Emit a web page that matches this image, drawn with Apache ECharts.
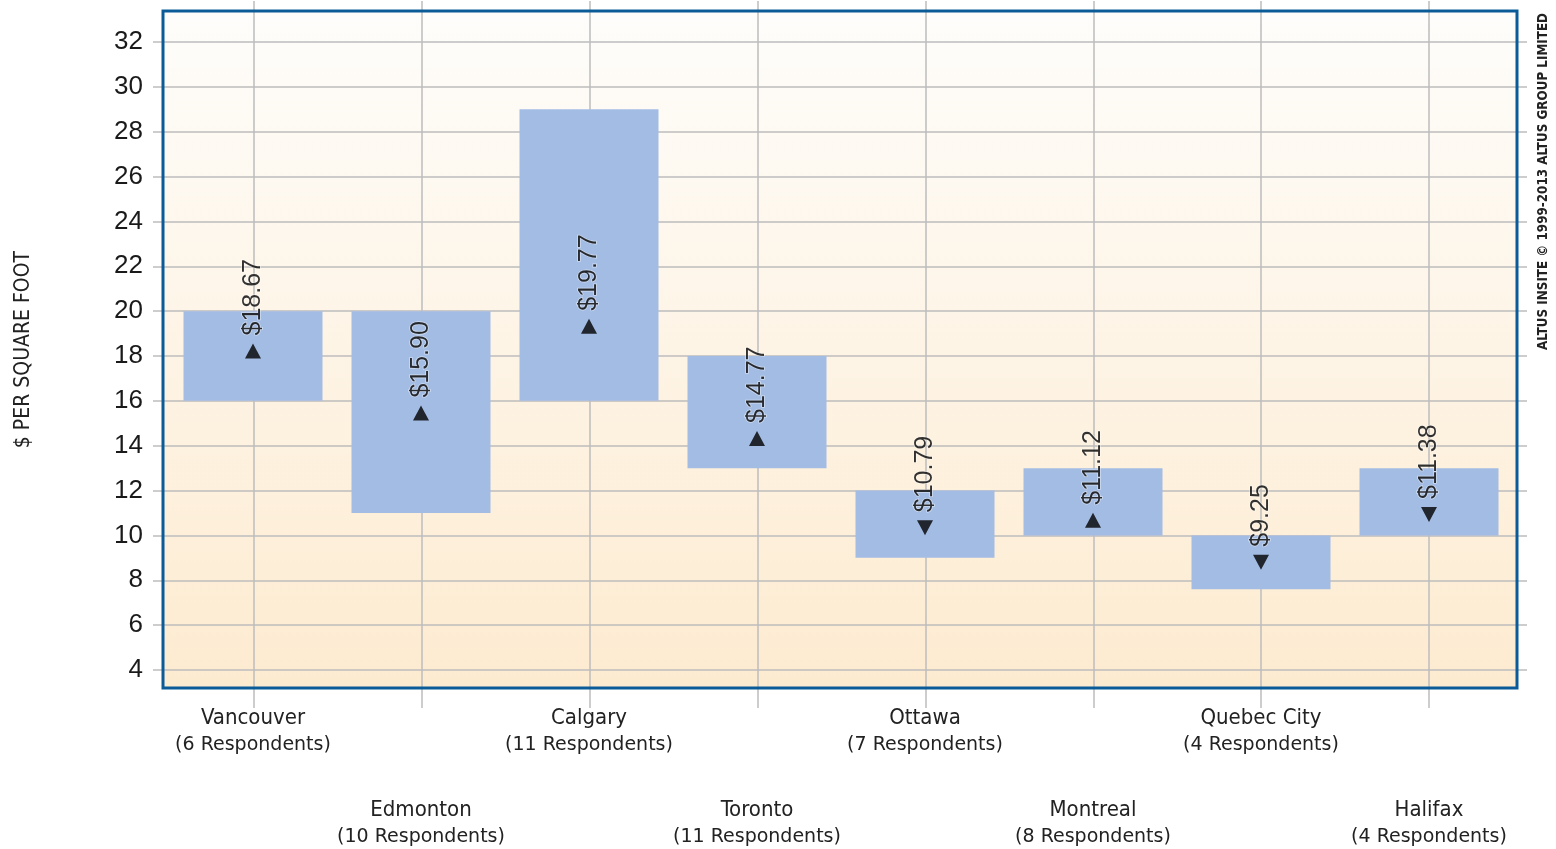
<!DOCTYPE html>
<html>
<head>
<meta charset="utf-8">
<script src="https://cdn.jsdelivr.net/npm/echarts@6/dist/echarts.min.js"></script>
<style>
  html, body { margin: 0; padding: 0; background: #ffffff; }
  #chart { width: 1556px; height: 849px; }
</style>
</head>
<body>
<div id="chart"></div>
<script>
// ---- data ----
const cities = ['Vancouver', 'Edmonton', 'Calgary', 'Toronto', 'Ottawa', 'Montreal', 'Quebec City', 'Halifax'];
const respondents = [6, 10, 11, 11, 7, 8, 4, 4];
const lowValues = [16, 11, 16, 13, 9, 10, 7.6, 10];
const highValues = [20, 20, 29, 18, 12, 13, 10, 13];
const averages = [18.67, 15.90, 19.77, 14.77, 10.79, 11.12, 9.25, 11.38];
const trends = ['up', 'up', 'up', 'up', 'down', 'up', 'down', 'down'];
const yMin = 4, yMax = 32, yStep = 2;
const yTitle = '$ PER SQUARE FOOT';
const copyright = 'ALTUS INSITE \u00A9 1999-2013 ALTUS GROUP LIMITED';

const narrow = "'Liberation Sans Narrow', 'DejaVu Sans Condensed', sans-serif";
const gridLineColor = '#bcbcbc';

const chart = echarts.init(document.getElementById('chart'), null, { renderer: 'canvas' });

const labelRich = {
  n: { fontFamily: narrow, fontSize: 22, lineHeight: 28, color: '#222', align: 'center' },
  r: { fontFamily: "'DejaVu Sans', sans-serif", fontSize: 19, lineHeight: 26, color: '#222', align: 'center' }
};
function catFormatter(v, i) {
  return '{n|' + v + '}\n{r|(' + respondents[i] + ' Respondents)}';
}

const option = {
  animation: false,
  backgroundColor: '#ffffff',
  grid: [
    // 0: frame background
    { show: true, z: -1, left: 163, right: 39, top: 11, bottom: 161, borderWidth: 0,
      backgroundColor: { type: 'linear', x: 0, y: 0, x2: 0, y2: 1,
        colorStops: [{ offset: 0, color: '#fefdfb' }, { offset: 1, color: '#fdebd0' }] } },
    // 1: vertical grid lines (category centres)
    { left: 254, right: 127, top: 1, bottom: 141 },
    // 2: horizontal grid lines + y labels
    { left: 153, right: 29, top: 42, bottom: 179 },
    // 3: main plot
    { left: 169, right: 43, top: 42, bottom: 179 },
    // 4: frame border
    { show: true, z: 5, left: 163, right: 39, top: 11, bottom: 161, backgroundColor: 'transparent',
      borderColor: '#0b5b98', borderWidth: 3 }
  ],
  xAxis: [
    { gridIndex: 1, type: 'value', min: 0, max: cities.length - 1, interval: 1,
      axisLine: { show: false }, axisTick: { show: false }, axisLabel: { show: false },
      splitLine: { show: true, lineStyle: { color: gridLineColor, width: 1.5 } } },
    { gridIndex: 2, type: 'value', min: 0, max: 1,
      axisLine: { show: false }, axisTick: { show: false }, axisLabel: { show: false }, splitLine: { show: false } },
    { gridIndex: 3, type: 'category', data: cities, position: 'bottom',
      axisLine: { show: false }, axisTick: { show: false }, splitLine: { show: false },
      axisLabel: { interval: function (i) { return i % 2 === 0; }, margin: 34, formatter: catFormatter, rich: labelRich } },
    { gridIndex: 3, type: 'category', data: cities, position: 'bottom',
      axisLine: { show: false }, axisTick: { show: false }, splitLine: { show: false },
      axisLabel: { interval: function (i) { return i % 2 === 1; }, margin: 126, formatter: catFormatter, rich: labelRich } }
  ],
  yAxis: [
    { gridIndex: 1, type: 'value', min: 0, max: 1,
      axisLine: { show: false }, axisTick: { show: false }, axisLabel: { show: false }, splitLine: { show: false } },
    { gridIndex: 2, type: 'value', min: yMin, max: yMax, interval: yStep,
      axisLine: { show: false }, axisTick: { show: false },
      axisLabel: { margin: 10, fontSize: 26, color: '#1a1a1a', fontFamily: "'Liberation Sans', Arial, sans-serif" },
      splitLine: { show: true, lineStyle: { color: gridLineColor, width: 1.5 } },
      name: yTitle, nameLocation: 'middle', nameRotate: 90, nameGap: 119,
      nameTextStyle: { fontFamily: narrow, fontSize: 21, color: '#222', padding: [0, 0, 0, 13] } },
    { gridIndex: 3, type: 'value', min: yMin, max: yMax,
      axisLine: { show: false }, axisTick: { show: false }, axisLabel: { show: false }, splitLine: { show: false } }
  ],
  series: [
    { type: 'bar', name: 'base', xAxisIndex: 2, yAxisIndex: 2, stack: 'range', barWidth: 139,
      itemStyle: { color: 'transparent' }, silent: true, data: lowValues },
    { type: 'bar', name: 'range', xAxisIndex: 2, yAxisIndex: 2, stack: 'range', barWidth: 139,
      itemStyle: { color: '#a3bce4' },
      data: highValues.map(function (h, i) { return h - lowValues[i]; }) },
    { type: 'scatter', name: 'average', xAxisIndex: 2, yAxisIndex: 2, z: 4,
      symbol: 'triangle', symbolSize: [16, 15], symbolOffset: [0, 10],
      itemStyle: { color: '#000' },
      label: {
        show: true, position: 'top', distance: 8, rotate: 90, align: 'left', verticalAlign: 'middle',
        fontFamily: "'Liberation Sans', Arial, sans-serif", fontSize: 25, color: '#000',
        textBorderColor: 'rgba(255,255,255,0.6)', textBorderWidth: 1.5,
        formatter: function (p) { return '$' + averages[p.dataIndex].toFixed(2); }
      },
      data: averages.map(function (v, i) { return { value: v, symbolRotate: trends[i] === 'down' ? 180 : 0 }; })
    }
  ],
  graphic: [
    { type: 'text', x: 1550, y: 350, rotation: Math.PI / 2, z: 10,
      style: { text: copyright, fontFamily: narrow, fontWeight: 'bold', fontSize: 13.3, fill: '#222',
        align: 'left', verticalAlign: 'bottom' } }
  ]
};

chart.setOption(option);
</script>
</body>
</html>
